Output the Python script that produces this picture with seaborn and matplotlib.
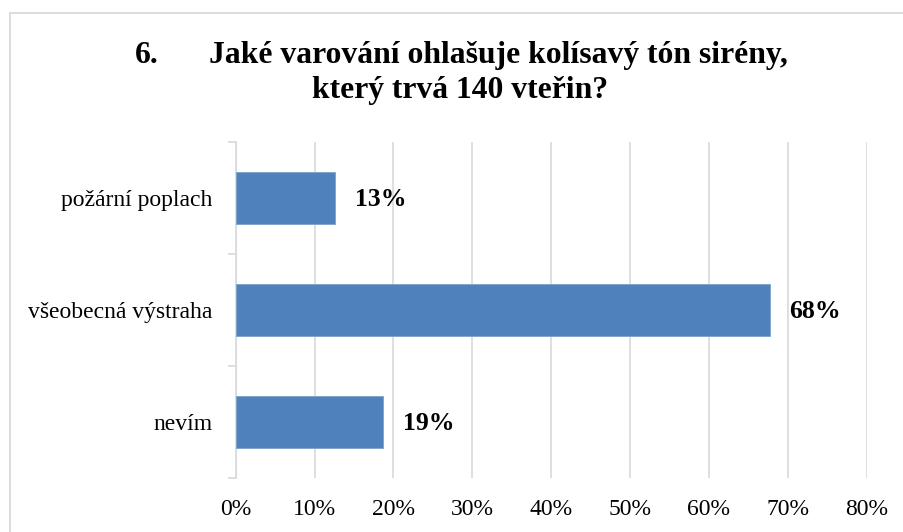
import matplotlib
matplotlib.use("Agg")
import matplotlib.pyplot as plt
import seaborn as sns
import pandas as pd
from matplotlib.lines import Line2D
from matplotlib.ticker import FixedLocator, PercentFormatter

categories = ["požární poplach", "všeobecná výstraha", "nevím"]
values = [0.126, 0.677, 0.187]
value_labels = ["13%", "68%", "19%"]
x_ticks = [0.0, 0.1, 0.2, 0.3, 0.4, 0.5, 0.6, 0.7, 0.8]
title_num = "6."
title_line1 = "Jaké varování ohlašuje kolísavý tón sirény,"
title_line2 = "který trvá 140 vteřin?"

sns.set_style("white")
plt.rcParams["font.family"] = ["Liberation Serif", "DejaVu Serif"]
plt.rcParams["text.color"] = "#000000"

W, H = 904, 532
fig = plt.figure(figsize=(W / 100, H / 100), dpi=100)
fig.patch.set_facecolor("white")

grid_c = "#d9d9d9"
ax = fig.add_axes([235.7 / W, 1 - 478 / H, (866.7 - 235.7) / W, (478 - 142) / H])

df = pd.DataFrame({"cat": categories, "val": values})
sns.barplot(data=df, x="val", y="cat", orient="h", color="#4f81bd",
            width=0.46, edgecolor="#7da2cf", linewidth=0.6, saturation=1,
            ax=ax, zorder=3)

ax.set_xlim(0, 0.8)
ax.set_ylim(len(categories) - 0.5, -0.5)
ax.set_xlabel("")
ax.set_ylabel("")
ax.xaxis.set_major_locator(FixedLocator(x_ticks))
ax.xaxis.set_major_formatter(PercentFormatter(1.0, decimals=0))
ax.grid(axis="x", color=grid_c, linewidth=1.2, zorder=0)
ax.grid(axis="y", visible=False)
ax.set_axisbelow(True)

for s in ["top", "right", "bottom"]:
    ax.spines[s].set_visible(False)
ax.spines["left"].set_color(grid_c)
ax.spines["left"].set_linewidth(1.2)

ax.tick_params(axis="x", length=0, pad=15, labelsize=17, labelcolor="#000000")
ax.tick_params(axis="y", which="major", length=0, pad=16.5, labelsize=17,
               labelcolor="#000000")
ax.yaxis.set_minor_locator(FixedLocator([-0.5, 0.5, 1.5, 2.5]))
ax.tick_params(axis="y", which="minor", length=5.5, width=1.2, color=grid_c,
               direction="out", left=True)

for i, (v, lab) in enumerate(zip(values, value_labels)):
    ax.annotate(lab, xy=(v, i), xytext=(14, -1), textcoords="offset points",
                ha="left", va="center", fontsize=18.5, fontweight="bold",
                color="#000000")

# title
fig.text(135 / W, 1 - 63 / H, title_num, ha="left", va="baseline",
         fontsize=22.8, fontweight="bold", color="#000000")
fig.text(498.5 / W, 1 - 63 / H, title_line1, ha="center", va="baseline",
         fontsize=22.8, fontweight="bold", color="#000000")
fig.text(460 / W, 1 - 98 / H, title_line2, ha="center", va="baseline",
         fontsize=22.8, fontweight="bold", color="#000000")

# chart area border (left and top visible)
fig.add_artist(Line2D([10 / W, 10 / W], [0, 1 - 13 / H], transform=fig.transFigure,
                      color=grid_c, linewidth=1.3))
fig.add_artist(Line2D([10 / W, 1], [1 - 13 / H, 1 - 13 / H], transform=fig.transFigure,
                      color=grid_c, linewidth=1.3))

fig.savefig("out.png", dpi=100, facecolor="white")
